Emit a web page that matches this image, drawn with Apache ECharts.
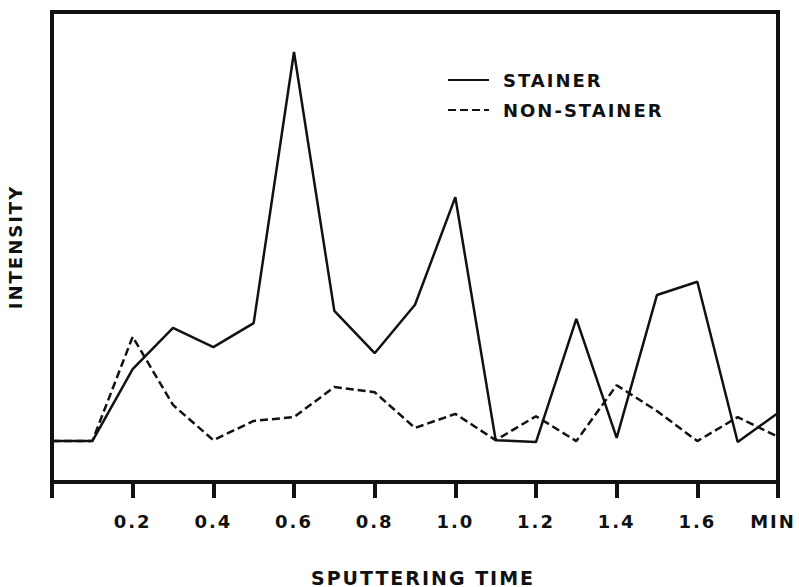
<!DOCTYPE html>
<html>
<head>
<meta charset="utf-8">
<script src="https://cdn.jsdelivr.net/npm/echarts@6/dist/echarts.min.js"></script>
<style>
  html, body { margin: 0; padding: 0; background: #fff; }
  #chart { width: 799px; height: 587px; }
  /* the original lettering is widely tracked */
  #chart text { letter-spacing: 2px; }
</style>
</head>
<body>
<div id="chart"></div>
<script>
// sputtering time (min)
const times = [0, 0.1, 0.2, 0.3, 0.4, 0.5, 0.6, 0.7, 0.8, 0.9, 1.0, 1.1, 1.2, 1.3, 1.4, 1.5, 1.6, 1.7, 1.8]
// intensity, arbitrary units (0 - 100)
const stainer = [8.7, 8.7, 24.0, 32.8, 28.7, 33.8, 91.5, 36.4, 27.4, 37.7, 60.6, 8.9, 8.5, 34.7, 9.4, 39.8, 42.6, 8.5, 14.7]
const nonStainer = [8.7, 8.7, 30.9, 16.4, 8.9, 13.0, 13.8, 20.2, 19.1, 11.5, 14.5, 8.9, 14.0, 8.7, 20.6, 15.1, 8.7, 13.8, 9.6]
const tickLabels = ['', '0.2', '0.4', '0.6', '0.8', '1.0', '1.2', '1.4', '1.6', 'MIN']

const font = 'DejaVu Sans'
const ink = '#111'

const chart = echarts.init(document.getElementById('chart'), null, { renderer: 'svg' })

const pairs = (ys) => times.map((t, i) => [t, ys[i]])

chart.setOption({
  backgroundColor: '#fff',
  animation: false,
  grid: {
    left: 52,
    right: 21,
    top: 12,
    bottom: 105,
    outerBoundsMode: 'none',
    containLabel: false,
    show: true,
    borderColor: ink,
    borderWidth: 4
  },
  legend: {
    orient: 'vertical',
    left: 447,
    top: 70,
    padding: 0,
    itemGap: 10,
    itemWidth: 41,
    itemHeight: 14,
    itemStyle: { opacity: 0 },
    textStyle: {
      fontFamily: font,
      fontWeight: 'bold',
      fontSize: 18,
      lineHeight: 20,
      color: ink,
      padding: [0, 0, 0, 9]
    },
    data: ['STAINER', 'NON-STAINER']
  },
  xAxis: {
    type: 'value',
    min: 0,
    max: 1.8,
    interval: 0.2,
    name: 'SPUTTERING TIME',
    nameLocation: 'middle',
    nameGap: 86,
    nameMoveOverlap: false,
    nameTextStyle: {
      fontFamily: font,
      fontWeight: 'bold',
      fontSize: 19,
      color: ink,
      padding: [0, 0, 0, 16]
    },
    axisLine: { show: true, onZero: false, lineStyle: { color: ink, width: 4 } },
    axisTick: { show: true, inside: false, length: 16, lineStyle: { color: ink, width: 4 } },
    axisLabel: {
      margin: 30,
      fontFamily: font,
      fontWeight: 'bold',
      fontSize: 18,
      color: ink,
      showMinLabel: true,
      showMaxLabel: true,
      formatter: (v) => {
        const i = Math.round(v / 0.2)
        // last label sits on the frame's right edge; nudge it inward a little
        return i === tickLabels.length - 1 ? '{last|' + tickLabels[i] + '}' : tickLabels[i]
      },
      rich: {
        last: {
          fontFamily: font,
          fontWeight: 'bold',
          fontSize: 18,
          color: ink,
          padding: [0, 10, 0, 0]
        }
      }
    },
    splitLine: { show: false }
  },
  yAxis: {
    type: 'value',
    min: 0,
    max: 100,
    name: 'INTENSITY',
    nameLocation: 'middle',
    nameRotate: 90,
    nameGap: 28,
    nameMoveOverlap: false,
    nameTextStyle: {
      fontFamily: font,
      fontWeight: 'bold',
      fontSize: 18,
      color: ink
    },
    axisLine: { show: false },
    axisTick: { show: false },
    axisLabel: { show: false },
    splitLine: { show: false }
  },
  series: [
    {
      name: 'STAINER',
      type: 'line',
      symbol: 'none',
      data: pairs(stainer),
      lineStyle: { color: ink, width: 2.5, type: 'solid' },
      itemStyle: { color: ink }
    },
    {
      name: 'NON-STAINER',
      type: 'line',
      symbol: 'none',
      data: pairs(nonStainer),
      lineStyle: { color: ink, width: 2.5, type: [8, 4] },
      itemStyle: { color: ink }
    }
  ]
})
</script>
</body>
</html>
